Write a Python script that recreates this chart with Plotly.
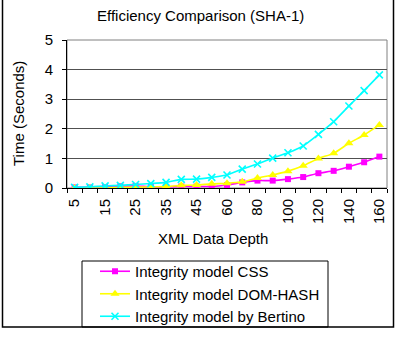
import plotly.graph_objects as go

depths = [5, 10, 15, 20, 25, 30, 35, 40, 45, 50, 60, 70, 80, 90, 100, 110, 120, 130, 140, 150, 160]
css = [0.02, 0.02, 0.03, 0.06, 0.07, 0.04, 0.04, 0.05, 0.05, 0.05, 0.10, 0.19, 0.25, 0.25, 0.30, 0.37, 0.50, 0.58, 0.72, 0.87, 1.06]
dom_hash = [0.0, 0.0, 0.0, 0.02, 0.03, 0.04, 0.05, 0.09, 0.10, 0.14, 0.16, 0.21, 0.34, 0.44, 0.57, 0.75, 1.00, 1.17, 1.51, 1.79, 2.13]
bertino = [0.02, 0.04, 0.07, 0.09, 0.12, 0.15, 0.19, 0.29, 0.30, 0.36, 0.44, 0.64, 0.81, 1.01, 1.19, 1.42, 1.81, 2.24, 2.77, 3.29, 3.82]
series_names = ["Integrity model CSS", "Integrity model DOM-HASH", "Integrity model by Bertino"]
title_text = "Efficiency Comparison (SHA-1)"
x_title = "XML Data Depth"
y_title = "Time (Seconds)"

FONT = "Liberation Sans, Arial, sans-serif"
FS = 15
idx = list(range(len(depths)))

fig = go.Figure()
styles = [
    (css, "#FF00FF", dict(symbol="square", size=6)),
    (dom_hash, "#FFFF00", dict(symbol="triangle-up", size=8)),
    (bertino, "#00FFFF", dict(symbol="x-thin", size=7, line=dict(width=1.6, color="#00FFFF"))),
]
for (vals, col, mk), name in zip(styles, series_names):
    fig.add_trace(go.Scatter(
        x=idx, y=vals, name=name, mode="lines+markers",
        line=dict(color=col, width=1.6, shape="spline", smoothing=0.5),
        marker=dict(color=col, **mk),
    ))

W, H = 396, 350
L, R, T, B = 67, 9, 40, 162
pw, ph = W - L - R, H - T - B

def px(x):
    return (x - L) / pw

def py(y):
    return 1 - (y - T) / ph

shapes = [
    dict(type="rect", xref="paper", yref="paper", x0=0, x1=1, y0=0, y1=1,
         line=dict(color="#808080", width=1), layer="below"),
    dict(type="rect", xref="paper", yref="paper", x0=px(2.5), x1=px(393.5), y0=py(327), y1=py(-3),
         line=dict(color="black", width=1.5)),
    dict(type="rect", xref="paper", yref="paper", x0=px(82), x1=px(328), y0=py(327), y1=py(261),
         line=dict(color="black", width=1)),
]

annotations = [
    dict(text=title_text, xref="paper", yref="paper", x=px(200), y=py(16), showarrow=False,
         font=dict(family=FONT, size=FS, color="black"), xanchor="center", yanchor="middle"),
    dict(text=x_title, xref="paper", yref="paper", x=px(213), y=py(238), showarrow=False,
         font=dict(family=FONT, size=FS, color="black"), xanchor="center", yanchor="middle"),
    dict(text=y_title, xref="paper", yref="paper", x=px(18), y=py(114), showarrow=False, textangle=-90,
         font=dict(family=FONT, size=FS, color="black"), xanchor="center", yanchor="middle"),
]

fig.update_layout(
    width=W, height=H,
    margin=dict(l=L, r=R, t=T, b=B, pad=0),
    paper_bgcolor="white", plot_bgcolor="white",
    font=dict(family=FONT, size=FS, color="black"),
    showlegend=True,
    legend=dict(x=px(95), y=py(255), xanchor="left", yanchor="top",
                bgcolor="rgba(0,0,0,0)", borderwidth=0,
                font=dict(family=FONT, size=FS, color="black"),
                tracegroupgap=0, itemwidth=30),
    shapes=shapes,
    annotations=annotations,
)

fig.update_xaxes(
    range=[-0.5, len(depths) - 0.5],
    tickmode="array", tickvals=idx[::2], ticktext=[str(d) for d in depths[::2]],
    tickangle=-90, ticks="", showgrid=False, zeroline=False,
    showline=True, linecolor="black", linewidth=1, ticklabelstandoff=4,
    tickfont=dict(family=FONT, size=FS, color="black"),
    minor=dict(tickmode="array", tickvals=[i - 0.5 for i in idx] + [len(depths) - 0.5],
               ticks="outside", ticklen=4, tickcolor="black", showgrid=False),
)
fig.update_yaxes(
    range=[0, 5], tickmode="linear", tick0=0, dtick=1,
    ticks="outside", ticklen=4, tickcolor="black", ticklabelstandoff=6,
    showgrid=True, gridcolor="#505050", gridwidth=1.2,
    zeroline=False, showline=True, linecolor="black", linewidth=1,
    tickfont=dict(family=FONT, size=FS, color="black"),
)

fig.write_html("out.html")
